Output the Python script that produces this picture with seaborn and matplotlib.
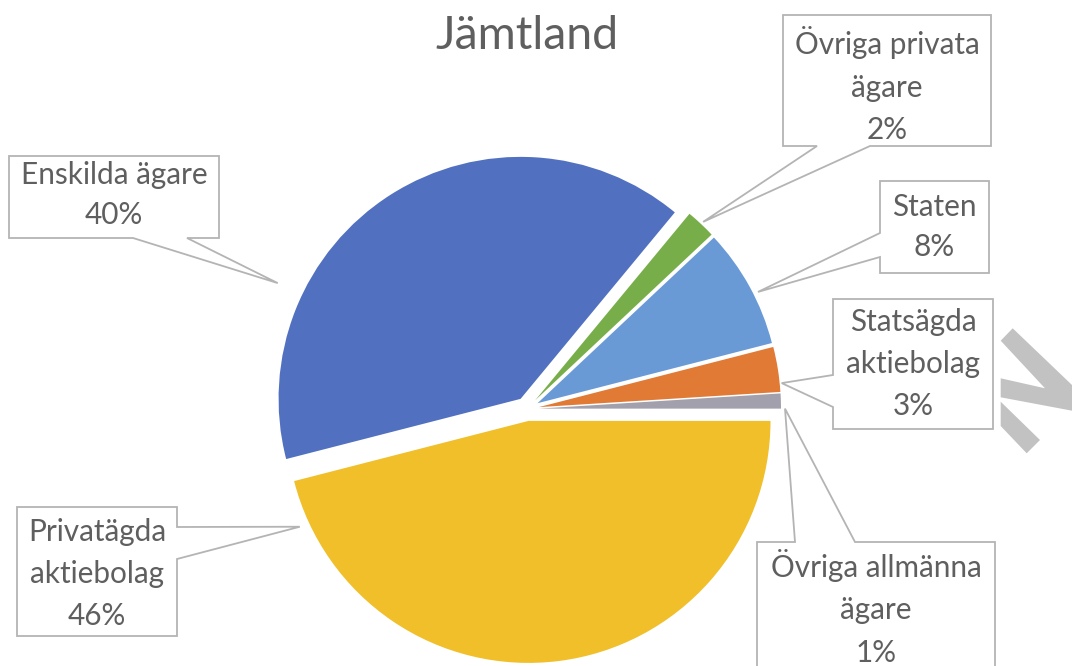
import numpy as np
import matplotlib
matplotlib.use("Agg")
import matplotlib.pyplot as plt
from matplotlib.patches import Polygon
import seaborn as sns

# ---------------- data ----------------
categories = ["Övriga allmänna ägare", "Statsägda aktiebolag", "Staten",
              "Övriga privata ägare", "Enskilda ägare", "Privatägda aktiebolag"]
shares = [1, 3, 8, 2, 40, 46]
label_texts = ["Övriga allmänna\nägare\n1%", "Statsägda\naktiebolag\n3%", "Staten\n8%",
               "Övriga privata\nägare\n2%", "Enskilda ägare\n40%", "Privatägda\naktiebolag\n46%"]
colors = ["#A2A0AC", "#E07A35", "#6A9AD6", "#78AE4A", "#5170C0", "#F0BF2A"]
title = "Jämtland"

# ---------------- style ----------------
sns.set_theme(style="white")
plt.rcParams["font.family"] = ["Lato", "DejaVu Sans"]

W, H = 1072, 666
fig = plt.figure(figsize=(W / 100, H / 100), dpi=100)
ax = fig.add_axes([0, 0, 1, 1])

def Y(y):  # image y -> data y
    return H - y

cx, cy, R, EXPL = 527, 409, 242, 12
wedges, _ = ax.pie(shares, colors=colors, startangle=0, counterclock=True,
                   radius=R, center=(cx, Y(cy)), explode=[EXPL] * len(shares),
                   wedgeprops=dict(linewidth=0))
ax.set_xlim(0, W)
ax.set_ylim(0, H)
ax.set_aspect("auto")
ax.axis("off")

txt_color = "#5f5f5f"
edge_color = "#B4B4B4"

# callout layout: box (x0, y0, x1, y1) in image px, side of pointer, base span,
# tip position as fraction inside the wedge angle and extra radial distance
boxes = [(757, 542, 995, 700), (833, 299, 993, 429), (880, 181, 989, 273),
         (783, 15, 991, 146), (9, 156, 219, 238), (17, 507, 177, 636)]
text_cy = [608, 364, 227, 85, 195, 574]
line_sp = [1.62, 1.62, 1.5, 1.62, 1.5, 1.62]
sides = ["top", "left", "left", "bottom", "bottom", "right"]
bases = [(795, 855), (375, 407), (233, 257), (817, 870), (133, 187), (527, 559)]
tip_frac = [0.0, 0.19, 0.43, 0.49, 0.723, 0.063]
tip_extra = [4, 2, 5, 3, 27, 10]

for w, txt, box, tcy, ls, side, base, fr, ex in zip(wedges, label_texts, boxes, text_cy,
                                                    line_sp, sides, bases, tip_frac,
                                                    tip_extra):
    th = np.deg2rad(w.theta1 + fr * (w.theta2 - w.theta1))
    wx, wy = w.center
    tx = wx + (w.r + ex) * np.cos(th)
    ty = H - (wy + (w.r + ex) * np.sin(th))  # image coords
    x0, y0, x1, y1 = box
    b1, b2 = base
    tip = (tx, ty)
    if side == "top":
        pts = [(x0, y0), (b1, y0), tip, (b2, y0), (x1, y0), (x1, y1), (x0, y1)]
    elif side == "right":
        pts = [(x0, y0), (x1, y0), (x1, b1), tip, (x1, b2), (x1, y1), (x0, y1)]
    elif side == "bottom":
        pts = [(x0, y0), (x1, y0), (x1, y1), (b2, y1), tip, (b1, y1), (x0, y1)]
    else:
        pts = [(x0, y0), (x1, y0), (x1, y1), (x0, y1), (x0, b2), tip, (x0, b1)]
    poly = Polygon([(px, Y(py)) for px, py in pts], closed=True, facecolor="white",
                   edgecolor=edge_color, linewidth=1.3, zorder=3, clip_on=False)
    ax.add_patch(poly)
    ax.text((x0 + x1) / 2, Y(tcy), txt, ha="center", va="center",
            fontsize=21.4, color=txt_color, linespacing=ls, zorder=4)

ax.text(cx, Y(36), title, ha="center", va="center", fontsize=33.5, color=txt_color)

# watermark shapes at right edge
wm1 = [(1000.7, 340.7), (1012.7, 328.3), (1072, 385), (1072, 410.7),
       (1000.7, 397.3), (1000.7, 378.3), (1045, 388.3)]
wm2 = [(1000.7, 401.7), (1040, 440), (1026.7, 453.3), (1000.7, 426)]
for wm in (wm1, wm2):
    ax.add_patch(Polygon([(px, Y(py)) for px, py in wm], closed=True,
                         facecolor="#C2C2C2", edgecolor="none", zorder=2))

fig.savefig("out.png", dpi=100, facecolor="white")
